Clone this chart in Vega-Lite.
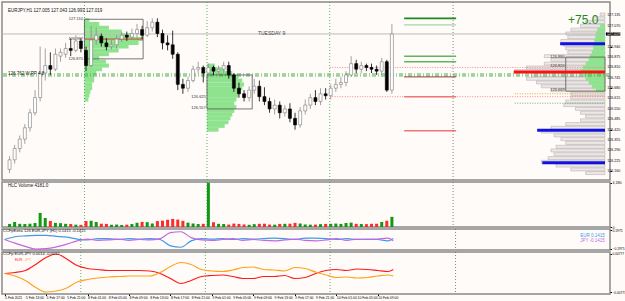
{
  "$schema": "https://vega.github.io/schema/vega-lite/v6.json",
  "background": "#FFFBF9",
  "padding": 0,
  "spacing": 2,
  "bounds": "flush",
  "resolve": {"scale": {"color": "independent"}},
  "config": {
    "view": {"stroke": "#8A8A8A", "strokeWidth": 1.5},
    "axis": {"labelFont": "Liberation Sans", "labelFontSize": 3.6, "labelColor": "#000000", "tickColor": "#000000", "tickSize": 1.5, "labelPadding": 0.5, "grid": false, "domain": false, "labelOverlap": false},
    "text": {"font": "Liberation Sans"},
    "legend": {"disable": true}
  },
  "datasets": {
    "candles": [
      {"i":0,"o":126.170,"h":126.253,"l":126.147,"c":126.230,"v":290},
      {"i":1,"o":126.230,"h":126.324,"l":126.206,"c":126.301,"v":470},
      {"i":2,"o":126.301,"h":126.383,"l":126.277,"c":126.360,"v":300},
      {"i":3,"o":126.360,"h":126.454,"l":126.330,"c":126.431,"v":280},
      {"i":4,"o":126.431,"h":126.549,"l":126.407,"c":126.525,"v":310},
      {"i":5,"o":126.525,"h":126.667,"l":126.508,"c":126.620,"v":380},
      {"i":6,"o":126.620,"h":126.940,"l":126.596,"c":126.774,"v":1330},
      {"i":7,"o":126.774,"h":126.928,"l":126.727,"c":126.821,"v":850},
      {"i":8,"o":126.821,"h":126.904,"l":126.762,"c":126.798,"v":570},
      {"i":9,"o":126.798,"h":126.928,"l":126.786,"c":126.892,"v":390},
      {"i":10,"o":126.880,"h":126.928,"l":126.845,"c":126.904,"v":360},
      {"i":11,"o":126.892,"h":126.963,"l":126.869,"c":126.928,"v":300},
      {"i":12,"o":126.928,"h":126.993,"l":126.880,"c":126.916,"v":280},
      {"i":13,"o":126.916,"h":127.011,"l":126.904,"c":126.975,"v":220},
      {"i":14,"o":126.975,"h":126.993,"l":126.904,"c":126.928,"v":200},
      {"i":15,"o":126.916,"h":126.940,"l":126.786,"c":126.821,"v":560},
      {"i":16,"o":126.821,"h":127.070,"l":126.809,"c":126.981,"v":590},
      {"i":17,"o":126.981,"h":127.058,"l":126.951,"c":127.011,"v":470},
      {"i":18,"o":127.005,"h":127.022,"l":126.940,"c":126.963,"v":310},
      {"i":19,"o":126.963,"h":126.993,"l":126.916,"c":126.940,"v":290},
      {"i":20,"o":126.940,"h":126.981,"l":126.922,"c":126.951,"v":210},
      {"i":21,"o":126.951,"h":127.011,"l":126.928,"c":126.987,"v":230},
      {"i":22,"o":126.987,"h":127.034,"l":126.969,"c":127.011,"v":190},
      {"i":23,"o":127.011,"h":127.034,"l":126.975,"c":126.999,"v":220},
      {"i":24,"o":126.999,"h":127.052,"l":126.981,"c":127.022,"v":280},
      {"i":25,"o":127.022,"h":127.082,"l":126.987,"c":127.046,"v":400},
      {"i":26,"o":127.046,"h":127.070,"l":126.987,"c":127.011,"v":480},
      {"i":27,"o":127.011,"h":127.099,"l":126.999,"c":127.058,"v":460},
      {"i":28,"o":127.058,"h":127.117,"l":127.034,"c":127.093,"v":330},
      {"i":29,"o":127.093,"h":127.117,"l":126.999,"c":127.022,"v":560},
      {"i":30,"o":127.022,"h":127.046,"l":126.922,"c":126.963,"v":600},
      {"i":31,"o":126.963,"h":127.011,"l":126.916,"c":126.951,"v":680},
      {"i":32,"o":126.951,"h":127.040,"l":126.863,"c":126.892,"v":760},
      {"i":33,"o":126.892,"h":126.904,"l":126.667,"c":126.703,"v":700},
      {"i":34,"o":126.703,"h":126.738,"l":126.644,"c":126.679,"v":580},
      {"i":35,"o":126.679,"h":126.750,"l":126.656,"c":126.727,"v":410},
      {"i":36,"o":126.727,"h":126.821,"l":126.715,"c":126.798,"v":330},
      {"i":37,"o":126.798,"h":126.845,"l":126.774,"c":126.809,"v":280},
      {"i":38,"o":126.809,"h":126.821,"l":126.715,"c":126.774,"v":300},
      {"i":39,"o":126.774,"h":126.833,"l":126.750,"c":126.809,"v":4180},
      {"i":40,"o":126.809,"h":126.821,"l":126.762,"c":126.786,"v":450},
      {"i":41,"o":126.786,"h":126.821,"l":126.762,"c":126.798,"v":300},
      {"i":42,"o":126.798,"h":126.845,"l":126.774,"c":126.821,"v":280},
      {"i":43,"o":126.821,"h":126.845,"l":126.738,"c":126.762,"v":230},
      {"i":44,"o":126.762,"h":126.774,"l":126.656,"c":126.679,"v":320},
      {"i":45,"o":126.679,"h":126.715,"l":126.620,"c":126.644,"v":290},
      {"i":46,"o":126.644,"h":126.667,"l":126.596,"c":126.620,"v":240},
      {"i":47,"o":126.620,"h":126.691,"l":126.596,"c":126.667,"v":210},
      {"i":48,"o":126.667,"h":126.738,"l":126.644,"c":126.691,"v":270},
      {"i":49,"o":126.691,"h":126.727,"l":126.596,"c":126.626,"v":300},
      {"i":50,"o":126.626,"h":126.685,"l":126.573,"c":126.596,"v":310},
      {"i":51,"o":126.596,"h":126.620,"l":126.525,"c":126.549,"v":230},
      {"i":52,"o":126.549,"h":126.608,"l":126.514,"c":126.573,"v":220},
      {"i":53,"o":126.573,"h":126.596,"l":126.490,"c":126.525,"v":290},
      {"i":54,"o":126.525,"h":126.573,"l":126.502,"c":126.549,"v":300},
      {"i":55,"o":126.549,"h":126.585,"l":126.466,"c":126.490,"v":310},
      {"i":56,"o":126.490,"h":126.525,"l":126.419,"c":126.449,"v":390},
      {"i":57,"o":126.449,"h":126.561,"l":126.431,"c":126.537,"v":330},
      {"i":58,"o":126.537,"h":126.608,"l":126.514,"c":126.573,"v":240},
      {"i":59,"o":126.573,"h":126.644,"l":126.549,"c":126.620,"v":220},
      {"i":60,"o":126.620,"h":126.667,"l":126.573,"c":126.596,"v":230},
      {"i":61,"o":126.596,"h":126.679,"l":126.573,"c":126.644,"v":270},
      {"i":62,"o":126.644,"h":126.679,"l":126.608,"c":126.632,"v":290},
      {"i":63,"o":126.632,"h":126.703,"l":126.608,"c":126.679,"v":300},
      {"i":64,"o":126.679,"h":126.738,"l":126.656,"c":126.703,"v":320},
      {"i":65,"o":126.703,"h":126.750,"l":126.679,"c":126.715,"v":290},
      {"i":66,"o":126.715,"h":126.786,"l":126.691,"c":126.762,"v":380},
      {"i":67,"o":126.762,"h":126.880,"l":126.750,"c":126.833,"v":410},
      {"i":68,"o":126.833,"h":126.857,"l":126.774,"c":126.798,"v":300},
      {"i":69,"o":126.798,"h":126.845,"l":126.774,"c":126.821,"v":280},
      {"i":70,"o":126.821,"h":126.833,"l":126.786,"c":126.809,"v":270},
      {"i":71,"o":126.809,"h":126.833,"l":126.774,"c":126.798,"v":300},
      {"i":72,"o":126.798,"h":126.821,"l":126.762,"c":126.786,"v":310},
      {"i":73,"o":126.786,"h":126.869,"l":126.762,"c":126.845,"v":470},
      {"i":74,"o":126.845,"h":126.857,"l":126.656,"c":126.667,"v":590},
      {"i":75,"o":126.667,"h":127.082,"l":126.644,"c":127.019,"v":960}
    ],
    "prof": [
      {"x1":14.69,"x2":15.65,"p":127.105},{"x1":14.69,"x2":17.58,"p":127.082},{"x1":14.69,"x2":19.5,"p":127.058},
      {"x1":14.69,"x2":22.0,"p":127.034},{"x1":14.69,"x2":24.3,"p":127.011},{"x1":14.69,"x2":26.2,"p":126.987},
      {"x1":14.69,"x2":25.3,"p":126.963},{"x1":14.69,"x2":23.35,"p":126.940},{"x1":14.69,"x2":21.4,"p":126.916},
      {"x1":14.69,"x2":19.5,"p":126.892},{"x1":14.69,"x2":17.58,"p":126.869},{"x1":14.69,"x2":18.9,"p":126.845},
      {"x1":14.69,"x2":19.5,"p":126.821},{"x1":14.69,"x2":18.15,"p":126.798},{"x1":14.69,"x2":17.0,"p":126.774},
      {"x1":14.69,"x2":16.6,"p":126.750},{"x1":14.69,"x2":16.6,"p":126.727},{"x1":14.69,"x2":16.2,"p":126.703},
      {"x1":14.69,"x2":16.2,"p":126.679},{"x1":14.69,"x2":15.85,"p":126.656},{"x1":14.69,"x2":15.65,"p":126.632},
      {"x1":14.69,"x2":15.46,"p":126.608},
      {"x1":38.73,"x2":40.27,"p":126.821},{"x1":38.73,"x2":42.2,"p":126.798},{"x1":38.73,"x2":43.7,"p":126.774},
      {"x1":38.73,"x2":44.9,"p":126.750},{"x1":38.73,"x2":45.65,"p":126.727},{"x1":38.73,"x2":46.0,"p":126.703},
      {"x1":38.73,"x2":45.65,"p":126.679},{"x1":38.73,"x2":45.3,"p":126.656},{"x1":38.73,"x2":44.9,"p":126.632},
      {"x1":38.73,"x2":44.5,"p":126.608},{"x1":38.73,"x2":44.1,"p":126.585},{"x1":38.73,"x2":44.5,"p":126.561},
      {"x1":38.73,"x2":44.1,"p":126.537},{"x1":38.73,"x2":43.7,"p":126.514},{"x1":38.73,"x2":43.35,"p":126.490},
      {"x1":38.73,"x2":42.96,"p":126.466},{"x1":38.73,"x2":42.2,"p":126.443},{"x1":38.73,"x2":41.0,"p":126.419}
    ],
    "mp": [
      {"x1":115.85,"p":127.141},{"x1":114.5,"p":127.117},{"x1":113.0,"p":127.093},{"x1":112.0,"p":127.070},
      {"x1":110.1,"p":127.046},{"x1":109.1,"p":127.022},{"x1":109.5,"p":126.999},{"x1":108.15,"p":126.975},
      {"x1":108.7,"p":126.951},{"x1":109.1,"p":126.928},{"x1":109.5,"p":126.904},{"x1":104.9,"p":126.880},
      {"x1":106.2,"p":126.857},{"x1":104.9,"p":126.833},{"x1":101.4,"p":126.809},{"x1":99.1,"p":126.786},
      {"x1":102.4,"p":126.762},{"x1":101.4,"p":126.738},{"x1":103.35,"p":126.715},{"x1":104.3,"p":126.691},
      {"x1":106.2,"p":126.667},{"x1":110.1,"p":126.644},{"x1":110.1,"p":126.620},{"x1":109.1,"p":126.596},
      {"x1":108.7,"p":126.573},{"x1":111.0,"p":126.549},{"x1":112.0,"p":126.525},{"x1":113.0,"p":126.502},
      {"x1":112.0,"p":126.478},{"x1":109.1,"p":126.454},{"x1":106.2,"p":126.431},{"x1":104.3,"p":126.407},
      {"x1":106.8,"p":126.383},{"x1":108.15,"p":126.360},{"x1":109.1,"p":126.336},{"x1":107.2,"p":126.312},
      {"x1":106.2,"p":126.289},{"x1":106.8,"p":126.265},{"x1":105.65,"p":126.241},{"x1":104.3,"p":126.218},
      {"x1":107.2,"p":126.194},{"x1":110.1,"p":126.170},{"x1":113.0,"p":126.147}
    ],
    "mpg": [
      {"x1":115.85,"p":127.070},{"x1":115.3,"p":127.046},{"x1":115.0,"p":127.022},{"x1":114.9,"p":126.999},
      {"x1":114.7,"p":126.975},{"x1":114.5,"p":126.951},{"x1":114.5,"p":126.928},{"x1":114.2,"p":126.904},
      {"x1":113.8,"p":126.880},{"x1":113.6,"p":126.857},{"x1":113.0,"p":126.833},{"x1":112.5,"p":126.809},
      {"x1":112.0,"p":126.786},{"x1":112.5,"p":126.762},{"x1":113.0,"p":126.738},{"x1":113.6,"p":126.715},
      {"x1":114.2,"p":126.691},{"x1":115.0,"p":126.667}
    ],
    "days": [{"i":14.7},{"i":38.73},{"i":62.8}],
    "future": [{"i":87.0}],
    "pricelabels": [
      {"p":127.135},{"p":127.07},{"p":126.94},{"p":126.875},{"p":126.81},{"p":126.745},{"p":126.68},{"p":126.615},
      {"p":126.55},{"p":126.485},{"p":126.42},{"p":126.355},{"p":126.29},{"p":126.225},{"p":126.16}
    ],
    "timelabels": [
      {"i":0,"t":"5 Feb 2021"},{"i":4,"t":"5 Feb 13:00"},{"i":8,"t":"5 Feb 17:00"},{"i":12,"t":"5 Feb 21:00"},
      {"i":16,"t":"8 Feb 01:00"},{"i":20,"t":"8 Feb 05:00"},{"i":24,"t":"8 Feb 09:00"},{"i":28,"t":"8 Feb 13:00"},
      {"i":32,"t":"8 Feb 17:00"},{"i":36,"t":"8 Feb 21:00"},{"i":40,"t":"9 Feb 01:00"},{"i":44,"t":"9 Feb 05:00"},
      {"i":48,"t":"9 Feb 09:00"},{"i":52,"t":"9 Feb 13:00"},{"i":56,"t":"9 Feb 17:00"},{"i":60,"t":"9 Feb 21:00"},
      {"i":64,"t":"10 Feb 01:00"},{"i":68,"t":"10 Feb 05:00"},{"i":72,"t":"10 Feb 09:00"}
    ],
    "ccf1": [
      {"i":0,"cur":"EUR","v":0},{"i":2,"cur":"EUR","v":0.06},{"i":4,"cur":"EUR","v":0.08},{"i":6,"cur":"EUR","v":0.09},
      {"i":8,"cur":"EUR","v":0.09},{"i":10,"cur":"EUR","v":0.07},{"i":12,"cur":"EUR","v":0.05},{"i":14,"cur":"EUR","v":0.01},
      {"i":16,"cur":"EUR","v":-0.01},{"i":18,"cur":"EUR","v":0.02},{"i":20,"cur":"EUR","v":0.02},{"i":22,"cur":"EUR","v":0.0},
      {"i":24,"cur":"EUR","v":0.02},{"i":26,"cur":"EUR","v":0.01},{"i":28,"cur":"EUR","v":0.02},{"i":30,"cur":"EUR","v":0.0},
      {"i":32,"cur":"EUR","v":-0.14},{"i":34,"cur":"EUR","v":-0.17},{"i":36,"cur":"EUR","v":-0.03},{"i":38,"cur":"EUR","v":0.02},
      {"i":40,"cur":"EUR","v":0.01},{"i":42,"cur":"EUR","v":0.02},{"i":44,"cur":"EUR","v":0.0},{"i":46,"cur":"EUR","v":0.02},
      {"i":48,"cur":"EUR","v":0.01},{"i":50,"cur":"EUR","v":0.02},{"i":52,"cur":"EUR","v":0.03},{"i":54,"cur":"EUR","v":0.02},
      {"i":56,"cur":"EUR","v":0.0},{"i":58,"cur":"EUR","v":0.03},{"i":60,"cur":"EUR","v":0.03},{"i":62,"cur":"EUR","v":0.02},
      {"i":64,"cur":"EUR","v":0.0},{"i":66,"cur":"EUR","v":0.02},{"i":68,"cur":"EUR","v":0.0},{"i":70,"cur":"EUR","v":0.01},
      {"i":72,"cur":"EUR","v":0.0},{"i":74,"cur":"EUR","v":-0.03},{"i":75,"cur":"EUR","v":0.02},
      {"i":0,"cur":"JPY","v":0},{"i":2,"cur":"JPY","v":-0.08},{"i":4,"cur":"JPY","v":-0.15},{"i":6,"cur":"JPY","v":-0.21},
      {"i":8,"cur":"JPY","v":-0.2},{"i":10,"cur":"JPY","v":-0.16},{"i":12,"cur":"JPY","v":-0.1},{"i":14,"cur":"JPY","v":-0.03},
      {"i":16,"cur":"JPY","v":0.01},{"i":18,"cur":"JPY","v":-0.02},{"i":20,"cur":"JPY","v":-0.01},{"i":22,"cur":"JPY","v":0.01},
      {"i":24,"cur":"JPY","v":-0.02},{"i":26,"cur":"JPY","v":0.0},{"i":28,"cur":"JPY","v":-0.01},{"i":30,"cur":"JPY","v":0.02},
      {"i":32,"cur":"JPY","v":0.15},{"i":34,"cur":"JPY","v":0.17},{"i":36,"cur":"JPY","v":0.04},{"i":38,"cur":"JPY","v":-0.01},
      {"i":40,"cur":"JPY","v":-0.02},{"i":42,"cur":"JPY","v":0.0},{"i":44,"cur":"JPY","v":0.02},{"i":46,"cur":"JPY","v":-0.02},
      {"i":48,"cur":"JPY","v":0.0},{"i":50,"cur":"JPY","v":-0.02},{"i":52,"cur":"JPY","v":-0.03},{"i":54,"cur":"JPY","v":-0.01},
      {"i":56,"cur":"JPY","v":0.01},{"i":58,"cur":"JPY","v":-0.02},{"i":60,"cur":"JPY","v":-0.03},{"i":62,"cur":"JPY","v":-0.01},
      {"i":64,"cur":"JPY","v":0.02},{"i":66,"cur":"JPY","v":-0.02},{"i":68,"cur":"JPY","v":0.01},{"i":70,"cur":"JPY","v":0.0},
      {"i":72,"cur":"JPY","v":0.01},{"i":74,"cur":"JPY","v":0.03},{"i":75,"cur":"JPY","v":-0.03}
    ],
    "ccf2": [
      {"i":0,"ccy":"EUR","v":-0.0002},{"i":2,"ccy":"EUR","v":0.0002},{"i":4,"ccy":"EUR","v":0.001},{"i":6,"ccy":"EUR","v":0.0034},
      {"i":8,"ccy":"EUR","v":0.0062},{"i":10,"ccy":"EUR","v":0.0076},{"i":12,"ccy":"EUR","v":0.0056},{"i":14,"ccy":"EUR","v":0.003},
      {"i":16,"ccy":"EUR","v":0.0018},{"i":18,"ccy":"EUR","v":0.0014},{"i":20,"ccy":"EUR","v":0.001},{"i":22,"ccy":"EUR","v":0.001},
      {"i":24,"ccy":"EUR","v":0.001},{"i":26,"ccy":"EUR","v":0.001},{"i":28,"ccy":"EUR","v":0.0008},{"i":30,"ccy":"EUR","v":-0.0002},
      {"i":32,"ccy":"EUR","v":-0.0022},{"i":34,"ccy":"EUR","v":-0.0042},{"i":36,"ccy":"EUR","v":-0.003},{"i":38,"ccy":"EUR","v":-0.0014},
      {"i":40,"ccy":"EUR","v":-0.001},{"i":42,"ccy":"EUR","v":-0.0008},{"i":44,"ccy":"EUR","v":-0.0014},{"i":46,"ccy":"EUR","v":-0.0022},
      {"i":48,"ccy":"EUR","v":-0.0022},{"i":50,"ccy":"EUR","v":-0.0014},{"i":52,"ccy":"EUR","v":-0.0014},{"i":54,"ccy":"EUR","v":-0.001},
      {"i":56,"ccy":"EUR","v":-0.0022},{"i":58,"ccy":"EUR","v":-0.0018},{"i":60,"ccy":"EUR","v":-0.0002},{"i":62,"ccy":"EUR","v":0.001},
      {"i":64,"ccy":"EUR","v":0.0014},{"i":66,"ccy":"EUR","v":0.001},{"i":68,"ccy":"EUR","v":0.0016},{"i":70,"ccy":"EUR","v":0.0014},
      {"i":72,"ccy":"EUR","v":0.001},{"i":74,"ccy":"EUR","v":0.0006},{"i":75,"ccy":"EUR","v":0.0014},
      {"i":0,"ccy":"JPY","v":-0.0002},{"i":2,"ccy":"JPY","v":-0.0012},{"i":4,"ccy":"JPY","v":-0.003},{"i":6,"ccy":"JPY","v":-0.0058},
      {"i":8,"ccy":"JPY","v":-0.0076},{"i":10,"ccy":"JPY","v":-0.0072},{"i":12,"ccy":"JPY","v":-0.006},{"i":14,"ccy":"JPY","v":-0.0036},
      {"i":16,"ccy":"JPY","v":-0.0026},{"i":18,"ccy":"JPY","v":-0.002},{"i":20,"ccy":"JPY","v":-0.0016},{"i":22,"ccy":"JPY","v":-0.0014},
      {"i":24,"ccy":"JPY","v":-0.0012},{"i":26,"ccy":"JPY","v":-0.0012},{"i":28,"ccy":"JPY","v":-0.0012},{"i":30,"ccy":"JPY","v":0.0002},
      {"i":32,"ccy":"JPY","v":0.0026},{"i":34,"ccy":"JPY","v":0.0042},{"i":36,"ccy":"JPY","v":0.0034},{"i":38,"ccy":"JPY","v":0.0014},
      {"i":40,"ccy":"JPY","v":0.0008},{"i":42,"ccy":"JPY","v":0.0006},{"i":44,"ccy":"JPY","v":0.0012},{"i":46,"ccy":"JPY","v":0.0022},
      {"i":48,"ccy":"JPY","v":0.0024},{"i":50,"ccy":"JPY","v":0.0014},{"i":52,"ccy":"JPY","v":0.0012},{"i":54,"ccy":"JPY","v":0.0008},
      {"i":56,"ccy":"JPY","v":0.0022},{"i":58,"ccy":"JPY","v":0.0018},{"i":60,"ccy":"JPY","v":0.0004},{"i":62,"ccy":"JPY","v":-0.0008},
      {"i":64,"ccy":"JPY","v":-0.0018},{"i":66,"ccy":"JPY","v":-0.0016},{"i":68,"ccy":"JPY","v":-0.002},{"i":70,"ccy":"JPY","v":-0.0018},
      {"i":72,"ccy":"JPY","v":-0.0012},{"i":74,"ccy":"JPY","v":-0.0008},{"i":75,"ccy":"JPY","v":-0.0012}
    ]
  },
  "vconcat": [
    {
      "width": 608,
      "height": 178,
      "layer": [
        {
          "data": {"name": "prof"},
          "mark": {"type": "bar", "orient": "horizontal", "size": 4, "color": "#8FE38F"},
          "encoding": {
            "x": {"field": "x1", "type": "quantitative", "scale": {"domain": [-0.5, 116.8], "nice": false, "zero": false}, "axis": null},
            "x2": {"field": "x2"},
            "y": {"field": "p", "type": "quantitative", "scale": {"domain": [126.135, 127.188], "nice": false, "zero": false}, "title": null}
          }
        },
        {
          "data": {"name": "mp"},
          "mark": {"type": "bar", "orient": "horizontal", "size": 3, "fill": "#EFE6E6", "stroke": "#A8A8A8", "strokeWidth": 0.5},
          "encoding": {
            "x": {"field": "x1", "type": "quantitative", "axis": null},
            "x2": {"datum": 116.8},
            "y": {"field": "p", "type": "quantitative", "title": null}
          }
        },
        {
          "data": {"name": "mpg"},
          "mark": {"type": "bar", "orient": "horizontal", "size": 4, "color": "#8FE38F"},
          "encoding": {
            "x": {"field": "x1", "type": "quantitative", "axis": null},
            "x2": {"datum": 116.8},
            "y": {"field": "p", "type": "quantitative", "title": null}
          }
        },
        {
          "data": {"name": "days"},
          "mark": {"type": "rule", "color": "#3A9A3A", "strokeDash": [1, 2], "strokeWidth": 0.8},
          "encoding": {"x": {"field": "i", "type": "quantitative", "axis": null}}
        },
        {
          "data": {"name": "future"},
          "mark": {"type": "rule", "color": "#666666", "strokeDash": [1, 2], "strokeWidth": 0.8},
          "encoding": {"x": {"field": "i", "type": "quantitative", "axis": null}}
        },
        {
          "data": {"values": [{"p": 127.019}]},
          "mark": {"type": "rule", "color": "#BBBBBB", "strokeWidth": 1},
          "encoding": {"y": {"field": "p", "type": "quantitative", "title": null}}
        },
        {
          "data": {"values": [{"p": 126.768}, {"p": 126.756}]},
          "mark": {"type": "rule", "color": "#4CAF50", "strokeDash": [4, 2, 1, 2], "strokeWidth": 1},
          "encoding": {"y": {"field": "p", "type": "quantitative", "title": null}}
        },
        {
          "data": {"values": [{"x1": 62.8, "p": 126.809}, {"x1": 62.8, "p": 126.626}]},
          "mark": {"type": "rule", "color": "#F08A8A", "strokeDash": [1, 1.5], "strokeWidth": 1},
          "encoding": {
            "x": {"field": "x1", "type": "quantitative", "axis": null},
            "x2": {"datum": 116.8},
            "y": {"field": "p", "type": "quantitative", "title": null}
          }
        },
        {
          "data": {"values": [{"x1": 99.1, "p": 126.644}]},
          "mark": {"type": "rule", "color": "#F5A623", "strokeDash": [1, 1.5], "strokeWidth": 1},
          "encoding": {
            "x": {"field": "x1", "type": "quantitative", "axis": null},
            "x2": {"datum": 116.8},
            "y": {"field": "p", "type": "quantitative", "title": null}
          }
        },
        {
          "data": {"values": [{"x1": 99.1, "p": 126.585}]},
          "mark": {"type": "rule", "color": "#66BB66", "strokeDash": [1, 1.5], "strokeWidth": 1},
          "encoding": {
            "x": {"field": "x1", "type": "quantitative", "axis": null},
            "x2": {"datum": 116.8},
            "y": {"field": "p", "type": "quantitative", "title": null}
          }
        },
        {
          "data": {"values": [{"p": 127.117}]},
          "mark": {"type": "rule", "color": "#1A8A1A", "strokeWidth": 1.6},
          "encoding": {"x": {"datum": 77.4, "type": "quantitative", "axis": null}, "x2": {"datum": 87.6}, "y": {"field": "p", "type": "quantitative", "title": null}}
        },
        {
          "data": {"values": [{"p": 127.076}]},
          "mark": {"type": "rule", "color": "#A8D4A8", "strokeWidth": 1.4},
          "encoding": {"x": {"datum": 77.4, "type": "quantitative", "axis": null}, "x2": {"datum": 87.6}, "y": {"field": "p", "type": "quantitative", "title": null}}
        },
        {
          "data": {"values": [{"p": 126.880}, {"p": 126.845}]},
          "mark": {"type": "rule", "color": "#5DB85D", "strokeWidth": 1.5},
          "encoding": {"x": {"datum": 77.4, "type": "quantitative", "axis": null}, "x2": {"datum": 87.6}, "y": {"field": "p", "type": "quantitative", "title": null}}
        },
        {
          "data": {"values": [{"p": 126.750}]},
          "mark": {"type": "rule", "color": "#9B3B2B", "strokeWidth": 1},
          "encoding": {"x": {"datum": 77.4, "type": "quantitative", "axis": null}, "x2": {"datum": 87.6}, "y": {"field": "p", "type": "quantitative", "title": null}}
        },
        {
          "data": {"values": [{"p": 126.626}, {"p": 126.413}]},
          "mark": {"type": "rule", "color": "#F07575", "strokeWidth": 1.5},
          "encoding": {"x": {"datum": 77.4, "type": "quantitative", "axis": null}, "x2": {"datum": 87.6}, "y": {"field": "p", "type": "quantitative", "title": null}}
        },
        {
          "data": {"values": [
            {"x1": 14.69, "x2": 26.2, "p1": 127.111, "p2": 126.863},
            {"x1": 38.73, "x2": 47.6, "p1": 126.762, "p2": 126.549},
            {"x1": 109.1, "x2": 116.8, "p1": 126.874, "p2": 126.661}
          ]},
          "mark": {"type": "rect", "fillOpacity": 0, "stroke": "#555555", "strokeWidth": 0.8},
          "encoding": {
            "x": {"field": "x1", "type": "quantitative", "axis": null},
            "x2": {"field": "x2"},
            "y": {"field": "p1", "type": "quantitative", "title": null},
            "y2": {"field": "p2"}
          }
        },
        {
          "data": {"values": [{"x1": 14.69, "x2": 26.2, "p": 126.987}]},
          "mark": {"type": "rule", "color": "#E53935", "strokeWidth": 1},
          "encoding": {
            "x": {"field": "x1", "type": "quantitative", "axis": null},
            "x2": {"field": "x2"},
            "y": {"field": "p", "type": "quantitative", "title": null}
          }
        },
        {
          "data": {"values": [{"x1": 108.0, "p": 126.957}, {"x1": 103.5, "p": 126.415}, {"x1": 104.5, "p": 126.212}]},
          "mark": {"type": "rule", "color": "#1010E0", "strokeWidth": 3},
          "encoding": {
            "x": {"field": "x1", "type": "quantitative", "axis": null},
            "x2": {"datum": 116.8},
            "y": {"field": "p", "type": "quantitative", "title": null}
          }
        },
        {
          "data": {"values": [{"x1": 98.9, "p": 126.780}]},
          "mark": {"type": "rule", "color": "#FF1010", "strokeWidth": 3},
          "encoding": {
            "x": {"field": "x1", "type": "quantitative", "axis": null},
            "x2": {"datum": 116.8},
            "y": {"field": "p", "type": "quantitative", "title": null}
          }
        },
        {
          "data": {"name": "candles"},
          "mark": {"type": "rule", "strokeWidth": 0.8},
          "encoding": {
            "x": {"field": "i", "type": "quantitative", "axis": null},
            "y": {"field": "l", "type": "quantitative", "title": null, "axis": {"orient": "right", "title": null, "labels": false, "values": [127.135, 127.07, 126.94, 126.875, 126.81, 126.745, 126.68, 126.615, 126.55, 126.485, 126.42, 126.355, 126.29, 126.225, 126.16]}},
            "y2": {"field": "h"},
            "color": {"condition": {"test": "datum.c >= datum.o", "value": "#8C8C8C"}, "value": "#000000"}
          }
        },
        {
          "data": {"name": "candles"},
          "mark": {"type": "bar", "size": 3, "strokeWidth": 0.6},
          "encoding": {
            "x": {"field": "i", "type": "quantitative", "axis": null},
            "y": {"field": "o", "type": "quantitative", "title": null},
            "y2": {"field": "c"},
            "fill": {"condition": {"test": "datum.c >= datum.o", "value": "#FFFFFF"}, "value": "#000000"},
            "stroke": {"condition": {"test": "datum.c >= datum.o", "value": "#7A7A7A"}, "value": "#000000"}
          }
        },
        {
          "data": {"name": "pricelabels"},
          "mark": {"type": "text", "fontSize": 3.6, "color": "#000000", "align": "left", "baseline": "middle"},
          "encoding": {
            "x": {"datum": 117.22, "type": "quantitative", "axis": null},
            "y": {"field": "p", "type": "quantitative", "title": null},
            "text": {"field": "p", "type": "quantitative", "format": ".3f"}
          }
        },
        {
          "data": {"values": [{"x1": 117.0, "x2": 119.8, "p1": 127.009, "p2": 127.029}]},
          "mark": {"type": "rect", "color": "#000000"},
          "encoding": {
            "x": {"field": "x1", "type": "quantitative", "axis": null},
            "x2": {"field": "x2"},
            "y": {"field": "p1", "type": "quantitative", "title": null},
            "y2": {"field": "p2"}
          }
        },
        {
          "data": {"values": [{"i": 117.2, "p": 127.019, "t": "127.019"}]},
          "mark": {"type": "text", "fontSize": 3.6, "color": "#FFFFFF", "align": "left", "baseline": "middle"},
          "encoding": {
            "x": {"field": "i", "type": "quantitative", "axis": null},
            "y": {"field": "p", "type": "quantitative", "title": null},
            "text": {"field": "t"}
          }
        },
        {
          "data": {"values": [
            {"i": -0.3, "p": 127.166, "t": "EURJPY,H1  127.005 127.043 126.993 127.019"},
            {"i": -0.3, "p": 126.766, "t": "126.762 W.PP 4.8"}
          ]},
          "mark": {"type": "text", "fontSize": 4.5, "color": "#111111", "align": "left", "baseline": "middle"},
          "encoding": {
            "x": {"field": "i", "type": "quantitative", "axis": null},
            "y": {"field": "p", "type": "quantitative", "title": null},
            "text": {"field": "t"}
          }
        },
        {
          "data": {"values": [
            {"i": 14.4, "p": 127.111, "t": "127.110"}, {"i": 14.4, "p": 126.987, "t": "126.987"},
            {"i": 14.4, "p": 126.863, "t": "126.870"}, {"i": 38.5, "p": 126.626, "t": "126.625"},
            {"i": 38.5, "p": 126.555, "t": "126.557"}, {"i": 108.9, "p": 126.874, "t": "126.880"},
            {"i": 108.9, "p": 126.821, "t": "126.820"}, {"i": 108.9, "p": 126.667, "t": "126.669"}
          ]},
          "mark": {"type": "text", "fontSize": 4, "color": "#333333", "align": "right", "baseline": "middle"},
          "encoding": {
            "x": {"field": "i", "type": "quantitative", "axis": null},
            "y": {"field": "p", "type": "quantitative", "title": null},
            "text": {"field": "t"}
          }
        },
        {
          "data": {"values": [{"i": 51.4, "p": 127.028, "t": "TUESDAY 9"}]},
          "mark": {"type": "text", "fontSize": 5, "color": "#444444", "align": "center", "baseline": "middle"},
          "encoding": {
            "x": {"field": "i", "type": "quantitative", "axis": null},
            "y": {"field": "p", "type": "quantitative", "title": null},
            "text": {"field": "t"}
          }
        },
        {
          "data": {"values": [{"i": 115.5, "p": 127.104, "t": "+75.0"}]},
          "mark": {"type": "text", "fontSize": 12, "color": "#1E8C1E", "align": "right", "baseline": "middle"},
          "encoding": {
            "x": {"field": "i", "type": "quantitative", "axis": null},
            "y": {"field": "p", "type": "quantitative", "title": null},
            "text": {"field": "t"}
          }
        }
      ]
    },
    {
      "width": 608,
      "height": 45,
      "layer": [
        {
          "data": {"name": "days"},
          "mark": {"type": "rule", "color": "#3A9A3A", "strokeDash": [1, 2], "strokeWidth": 0.8},
          "encoding": {"x": {"field": "i", "type": "quantitative", "scale": {"domain": [-0.5, 116.8], "nice": false, "zero": false}, "axis": null}}
        },
        {
          "data": {"name": "future"},
          "mark": {"type": "rule", "color": "#666666", "strokeDash": [1, 2], "strokeWidth": 0.8},
          "encoding": {"x": {"field": "i", "type": "quantitative", "axis": null}}
        },
        {
          "data": {"name": "candles"},
          "mark": {"type": "bar", "size": 3},
          "encoding": {
            "x": {"field": "i", "type": "quantitative", "axis": null},
            "y": {"field": "v", "type": "quantitative", "scale": {"domain": [0, 4250], "nice": false}, "axis": {"orient": "right", "title": null, "values": [0, 4180]}},
            "color": {"condition": {"test": "datum.c >= datum.o", "value": "#119911"}, "value": "#FF2A2A"}
          }
        },
        {
          "data": {"values": [{"i": -0.3, "v": 4150, "t": "HLC Volume 4181.0"}]},
          "mark": {"type": "text", "fontSize": 4.5, "color": "#111111", "align": "left", "baseline": "top"},
          "encoding": {
            "x": {"field": "i", "type": "quantitative", "axis": null},
            "y": {"field": "v", "type": "quantitative", "title": null},
            "text": {"field": "t"}
          }
        }
      ]
    },
    {
      "width": 608,
      "height": 21,
      "layer": [
        {
          "data": {"name": "days"},
          "mark": {"type": "rule", "color": "#3A9A3A", "strokeDash": [1, 2], "strokeWidth": 0.8},
          "encoding": {"x": {"field": "i", "type": "quantitative", "scale": {"domain": [-0.5, 116.8], "nice": false, "zero": false}, "axis": null}}
        },
        {
          "data": {"name": "future"},
          "mark": {"type": "rule", "color": "#666666", "strokeDash": [1, 2], "strokeWidth": 0.8},
          "encoding": {"x": {"field": "i", "type": "quantitative", "axis": null}}
        },
        {
          "data": {"name": "ccf1"},
          "mark": {"type": "line", "interpolate": "monotone", "strokeWidth": 1.2},
          "encoding": {
            "x": {"field": "i", "type": "quantitative", "axis": null},
            "y": {"field": "v", "type": "quantitative", "scale": {"domain": [-0.23, 0.23], "nice": false, "zero": false}, "axis": {"orient": "right", "title": null, "labelFontSize": 3.3, "values": [-0.1975, 0, 0.1975], "labelExpr": "datum.value == 0 ? '0.00' : format(datum.value, '.4f')"}},
            "color": {"field": "cur", "type": "nominal", "scale": {"domain": ["EUR", "JPY"], "range": ["#3D9BE9", "#C466E0"]}}
          }
        },
        {
          "data": {"values": [{"i": -0.3, "v": 0.22, "t": "CCFpExtra 126 EUR,JPY (H1) 0.1415 -0.1415"}]},
          "mark": {"type": "text", "fontSize": 4, "color": "#111111", "align": "left", "baseline": "top"},
          "encoding": {
            "x": {"field": "i", "type": "quantitative", "axis": null},
            "y": {"field": "v", "type": "quantitative", "title": null},
            "text": {"field": "t"}
          }
        },
        {
          "data": {"values": [{"i": 115.8, "v": 0.08, "t": "EUR   0.1415", "cur": "EUR"}, {"i": 115.8, "v": -0.035, "t": "JPY  -0.1415", "cur": "JPY"}]},
          "mark": {"type": "text", "fontSize": 4.5, "align": "right", "baseline": "middle"},
          "encoding": {
            "x": {"field": "i", "type": "quantitative", "axis": null},
            "y": {"field": "v", "type": "quantitative", "title": null},
            "text": {"field": "t"},
            "color": {"field": "cur", "type": "nominal", "scale": {"domain": ["EUR", "JPY"], "range": ["#3D9BE9", "#C466E0"]}}
          }
        }
      ]
    },
    {
      "width": 608,
      "height": 42,
      "layer": [
        {
          "data": {"name": "days"},
          "mark": {"type": "rule", "color": "#3A9A3A", "strokeDash": [1, 2], "strokeWidth": 0.8},
          "encoding": {"x": {"field": "i", "type": "quantitative", "scale": {"domain": [-0.5, 116.8], "nice": false, "zero": false}, "title": null}}
        },
        {
          "data": {"name": "future"},
          "mark": {"type": "rule", "color": "#666666", "strokeDash": [1, 2], "strokeWidth": 0.8},
          "encoding": {"x": {"field": "i", "type": "quantitative", "title": null}}
        },
        {
          "data": {"name": "ccf2"},
          "mark": {"type": "line", "interpolate": "monotone", "strokeWidth": 1.2},
          "encoding": {
            "x": {"field": "i", "type": "quantitative", "title": null, "axis": {"orient": "bottom", "title": null, "labels": false, "values": [0, 4, 8, 12, 16, 20, 24, 28, 32, 36, 40, 44, 48, 52, 56, 60, 64, 68, 72]}},
            "y": {"field": "v", "type": "quantitative", "scale": {"domain": [-0.0084, 0.0084], "nice": false, "zero": false}, "title": null, "axis": {"orient": "right", "title": null, "labelFontSize": 3.2, "values": [-0.00777, 0, 0.00777], "labelExpr": "datum.value == 0 ? '0.00' : format(datum.value, '.5f')"}},
            "color": {"field": "ccy", "type": "nominal", "scale": {"domain": ["EUR", "JPY"], "range": ["#FF1A1A", "#FFA21A"]}}
          }
        },
        {
          "data": {"name": "timelabels"},
          "mark": {"type": "text", "fontSize": 3.4, "color": "#000000", "align": "left", "baseline": "top", "dx": 0.5},
          "encoding": {
            "x": {"field": "i", "type": "quantitative", "title": null},
            "y": {"datum": -0.0092, "type": "quantitative", "title": null},
            "text": {"field": "t"}
          }
        },
        {
          "data": {"values": [{"i": -0.3, "v": 0.0083, "t": "CCFp  EUR,JPY  0.0014 -0.0012"}]},
          "mark": {"type": "text", "fontSize": 4, "color": "#111111", "align": "left", "baseline": "top"},
          "encoding": {
            "x": {"field": "i", "type": "quantitative", "title": null},
            "y": {"field": "v", "type": "quantitative", "title": null},
            "text": {"field": "t"}
          }
        },
        {
          "data": {"values": [{"i": 2.0, "v": 0.0054, "t": "EUR", "ccy": "EUR"}, {"i": 3.9, "v": 0.0054, "t": "JPY", "ccy": "JPY"}]},
          "mark": {"type": "text", "fontSize": 3.5, "align": "left", "baseline": "middle"},
          "encoding": {
            "x": {"field": "i", "type": "quantitative", "title": null},
            "y": {"field": "v", "type": "quantitative", "title": null},
            "text": {"field": "t"},
            "color": {"field": "ccy", "type": "nominal", "scale": {"domain": ["EUR", "JPY"], "range": ["#FF1A1A", "#FFA21A"]}}
          }
        }
      ]
    }
  ]
}
